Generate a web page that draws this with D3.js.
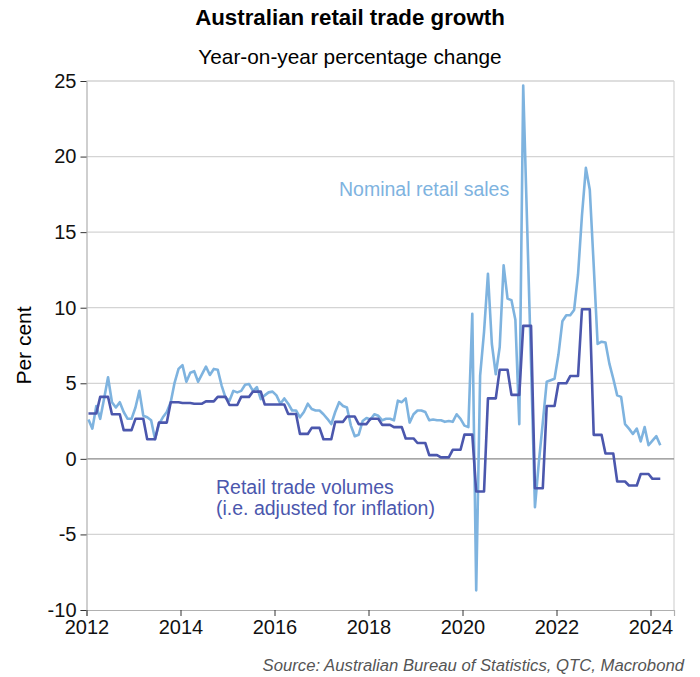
<!DOCTYPE html>
<html>
<head>
<meta charset="utf-8">
<script src="https://cdn.jsdelivr.net/npm/d3@7"></script>
<style>
  html, body { margin: 0; padding: 0; background: #fff; }
  svg { display: block; font-family: "Liberation Sans", Arial, sans-serif; }
</style>
</head>
<body>
<svg id="chart" width="700" height="677"></svg>
<script>
"use strict";

// ── data (monthly from Jan 2012, volumes quarterly from Q1 2012) ─────────────
const startYear = 2012;

const nominalSales = [
  2.6, 2.0, 3.5, 2.65, 4.0, 5.4, 3.75, 3.4, 3.75, 3.1, 2.65, 2.65,      // 2012
  3.4, 4.5, 2.85, 2.75, 2.55, 1.3, 2.3, 2.75, 3.1, 3.75, 5.05, 5.95,     // 2013
  6.2, 5.1, 5.7, 5.8, 5.1, 5.6, 6.1, 5.55, 5.95, 5.9, 4.85, 4.05,        // 2014
  3.85, 4.5, 4.4, 4.5, 4.9, 4.95, 4.5, 4.75, 3.95, 4.2, 4.4, 4.45,       // 2015
  4.2, 3.65, 4.0, 3.65, 3.2, 3.2, 2.75, 3.1, 3.65, 3.3, 3.2, 3.2,        // 2016
  2.95, 2.65, 2.3, 3.1, 3.75, 3.5, 3.4, 2.2, 1.5, 1.6, 2.5, 2.7,         // 2017
  2.6, 2.95, 2.85, 2.55, 2.65, 2.65, 2.55, 3.85, 3.75, 4.0, 2.4, 2.95,   // 2018
  3.2, 3.2, 3.1, 2.55, 2.6, 2.55, 2.55, 2.45, 2.5, 2.45, 2.95, 2.65,     // 2019
  2.2, 2.1, 9.6, -8.7, 5.5, 8.4, 12.25, 7.6, 5.6, 7.4, 12.8, 10.6,       // 2020
  10.5, 9.2, 2.3, 24.7, 15.5, 6.3, -3.2, -0.2, 2.4, 5.1, 5.2, 5.3,       // 2021
  6.9, 9.1, 9.5, 9.5, 9.85, 12.2, 16.1, 19.25, 17.8, 12.8, 7.6, 7.75,    // 2022
  7.7, 6.3, 5.3, 4.2, 4.1, 2.3, 2.0, 1.65, 2.0, 1.15, 2.1, 0.9,          // 2023
  1.2, 1.5, 0.9                                                          // 2024
];

const tradeVolumes = [
  3.0, 4.1, 2.95, 1.9,     // 2012
  2.65, 1.3, 2.4, 3.75,    // 2013
  3.7, 3.65, 3.8, 4.1,     // 2014
  3.56, 4.1, 4.45, 3.6,    // 2015
  3.6, 2.97, 1.65, 2.05,   // 2016
  1.3, 2.45, 2.8, 2.3,     // 2017
  2.65, 2.25, 2.1, 1.35,   // 2018
  1.05, 0.25, 0.1, 0.6,    // 2019
  1.6, -2.16, 4.0, 5.9,    // 2020
  4.23, 8.8, -1.94, 3.5,   // 2021
  5.0, 5.48, 9.9, 1.59,    // 2022
  0.35, -1.5, -1.76, -1.0, // 2023
  -1.32                    // 2024
];

const yTicks = [-10, -5, 0, 5, 10, 15, 20, 25];
const xTicks = [2012, 2014, 2016, 2018, 2020, 2022, 2024];

// ── layout ────────────────────────────────────────────────────────────────────
const plot = { left: 86.5, right: 674, top: 81, bottom: 610 };
const COL_NOMINAL = "#7eb3df";
const COL_VOLUME  = "#4b57ad";
const FONT = "Liberation Sans, Arial, sans-serif";

const svg = d3.select("#chart");

const x = d3.scaleLinear().domain([2012, 2024.5]).range([plot.left, plot.right]);
const y = d3.scaleLinear().domain([-10, 25]).range([plot.bottom, plot.top]);

// monthly points sit mid-month
const monthTime = i => startYear + (i + 0.5) / 12;

const nominalPts = nominalSales.map((v, i) => ({ t: monthTime(i), v }));
const volumePts = tradeVolumes.flatMap((v, q) => [
  { t: monthTime(q * 3), v },
  { t: monthTime(q * 3 + 2), v },
]);

// grid lines
svg.append("g")
  .selectAll("line")
  .data(yTicks.filter(d => d !== 0 && d !== -10))
  .join("line")
  .attr("x1", plot.left).attr("x2", plot.right)
  .attr("y1", d => y(d)).attr("y2", d => y(d))
  .attr("stroke", "#d4d4d4").attr("stroke-width", 1.2);

// frame (right side)
svg.append("line")
  .attr("x1", plot.right).attr("x2", plot.right)
  .attr("y1", plot.top).attr("y2", plot.bottom)
  .attr("stroke", "#d4d4d4").attr("stroke-width", 1.2);

// zero line
svg.append("line")
  .attr("x1", plot.left).attr("x2", plot.right)
  .attr("y1", y(0)).attr("y2", y(0))
  .attr("stroke", "#8a8a8a").attr("stroke-width", 1.2);

// y axis (plain hyphen for negatives, as in the original)
svg.append("g")
  .attr("transform", `translate(${plot.left},0)`)
  .call(d3.axisLeft(y).tickValues(yTicks).tickSize(6).tickPadding(4).tickFormat(d => String(d)))
  .call(ax => {
    ax.select(".domain").attr("stroke", "#b0b0b0").attr("stroke-width", 1.2);
    ax.selectAll(".tick line").attr("stroke", "#333");
    ax.selectAll("text").attr("fill", "#111").attr("font-size", 20)
      .attr("font-family", FONT);
  });

// x axis
svg.append("g")
  .attr("transform", `translate(0,${plot.bottom})`)
  .call(d3.axisBottom(x).tickValues(xTicks).tickSize(6).tickPadding(4).tickFormat(d => String(d)))
  .call(ax => {
    ax.select(".domain").attr("stroke", "#b0b0b0").attr("stroke-width", 1.2);
    ax.selectAll(".tick line").attr("stroke", "#333");
    ax.selectAll("text").attr("fill", "#111").attr("font-size", 20)
      .attr("font-family", FONT);
  });

// top border
svg.append("line")
  .attr("x1", plot.left).attr("x2", plot.right)
  .attr("y1", plot.top).attr("y2", plot.top)
  .attr("stroke", "#d4d4d4").attr("stroke-width", 1.2);

// lines
const line = d3.line().x(d => x(d.t)).y(d => y(d.v));

svg.append("path").datum(nominalPts)
  .attr("fill", "none").attr("stroke", COL_NOMINAL)
  .attr("stroke-width", 2.6).attr("stroke-linejoin", "round")
  .attr("d", line);

svg.append("path").datum(volumePts)
  .attr("fill", "none").attr("stroke", COL_VOLUME)
  .attr("stroke-width", 2.6).attr("stroke-linejoin", "round")
  .attr("d", line);

// series labels
svg.append("text")
  .attr("x", 339).attr("y", 196)
  .attr("fill", COL_NOMINAL).attr("font-size", 19.5)
  .text("Nominal retail sales");

svg.append("text")
  .attr("x", 216).attr("y", 494)
  .attr("fill", COL_VOLUME).attr("font-size", 19.5)
  .text("Retail trade volumes");
svg.append("text")
  .attr("x", 216).attr("y", 515)
  .attr("fill", COL_VOLUME).attr("font-size", 19.5)
  .text("(i.e. adjusted for inflation)");

// titles
svg.append("text")
  .attr("x", 350).attr("y", 25).attr("text-anchor", "middle")
  .attr("font-size", 22.3).attr("font-weight", "bold").attr("fill", "#000")
  .text("Australian retail trade growth");

svg.append("text")
  .attr("x", 350).attr("y", 64).attr("text-anchor", "middle")
  .attr("font-size", 20.8).attr("fill", "#000")
  .text("Year-on-year percentage change");

// y label
svg.append("text")
  .attr("transform", `translate(31,${(plot.top + plot.bottom) / 2}) rotate(-90)`)
  .attr("text-anchor", "middle").attr("font-size", 21).attr("fill", "#000")
  .text("Per cent");

// source
svg.append("text")
  .attr("x", 684).attr("y", 671).attr("text-anchor", "end")
  .attr("font-size", 16.7).attr("font-style", "italic").attr("fill", "#555")
  .text("Source: Australian Bureau of Statistics, QTC, Macrobond");
</script>
</body>
</html>
